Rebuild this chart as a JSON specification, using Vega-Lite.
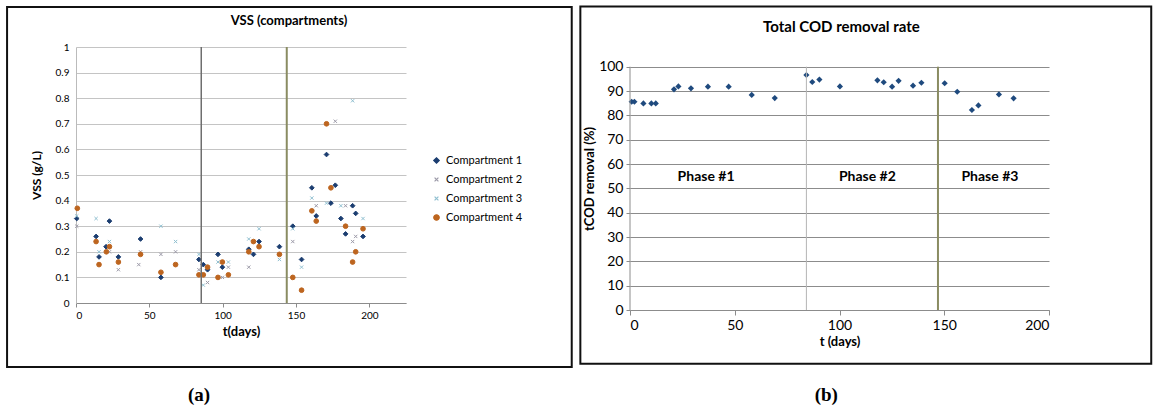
{
  "$schema": "https://vega.github.io/schema/vega-lite/v6.json",
  "background": "white",
  "padding": {"left": 6, "top": 5, "right": 3, "bottom": 2},
  "spacing": 6,
  "config": {
    "view": {"stroke": null},
    "font": "Lato",
    "axis": {"labelFont": "Lato", "titleFont": "Lato", "labelColor": "#000", "titleColor": "#000", "domainColor": "#8c8c8c", "tickColor": "#8c8c8c"}
  },
  "datasets": {
    "vss": [
      {"t": 0.5, "vss": 0.33, "series": "Compartment 1"},
      {"t": 13.7, "vss": 0.26, "series": "Compartment 1"},
      {"t": 15.7, "vss": 0.18, "series": "Compartment 1"},
      {"t": 20.5, "vss": 0.22, "series": "Compartment 1"},
      {"t": 22.8, "vss": 0.32, "series": "Compartment 1"},
      {"t": 28.9, "vss": 0.18, "series": "Compartment 1"},
      {"t": 44.0, "vss": 0.25, "series": "Compartment 1"},
      {"t": 57.9, "vss": 0.10, "series": "Compartment 1"},
      {"t": 83.8, "vss": 0.17, "series": "Compartment 1"},
      {"t": 86.8, "vss": 0.15, "series": "Compartment 1"},
      {"t": 89.7, "vss": 0.13, "series": "Compartment 1"},
      {"t": 96.8, "vss": 0.19, "series": "Compartment 1"},
      {"t": 99.8, "vss": 0.14, "series": "Compartment 1"},
      {"t": 117.8, "vss": 0.21, "series": "Compartment 1"},
      {"t": 121.0, "vss": 0.19, "series": "Compartment 1"},
      {"t": 124.8, "vss": 0.24, "series": "Compartment 1"},
      {"t": 138.7, "vss": 0.22, "series": "Compartment 1"},
      {"t": 147.8, "vss": 0.30, "series": "Compartment 1"},
      {"t": 153.8, "vss": 0.17, "series": "Compartment 1"},
      {"t": 160.8, "vss": 0.45, "series": "Compartment 1"},
      {"t": 163.8, "vss": 0.34, "series": "Compartment 1"},
      {"t": 170.8, "vss": 0.58, "series": "Compartment 1"},
      {"t": 173.8, "vss": 0.39, "series": "Compartment 1"},
      {"t": 176.8, "vss": 0.46, "series": "Compartment 1"},
      {"t": 180.6, "vss": 0.33, "series": "Compartment 1"},
      {"t": 183.8, "vss": 0.27, "series": "Compartment 1"},
      {"t": 188.6, "vss": 0.38, "series": "Compartment 1"},
      {"t": 190.7, "vss": 0.35, "series": "Compartment 1"},
      {"t": 195.7, "vss": 0.26, "series": "Compartment 1"},
      {"t": 0.5, "vss": 0.30, "series": "Compartment 2"},
      {"t": 22.8, "vss": 0.20, "series": "Compartment 2"},
      {"t": 28.9, "vss": 0.13, "series": "Compartment 2"},
      {"t": 42.8, "vss": 0.15, "series": "Compartment 2"},
      {"t": 44.0, "vss": 0.20, "series": "Compartment 2"},
      {"t": 57.9, "vss": 0.19, "series": "Compartment 2"},
      {"t": 67.9, "vss": 0.20, "series": "Compartment 2"},
      {"t": 83.8, "vss": 0.13, "series": "Compartment 2"},
      {"t": 89.7, "vss": 0.08, "series": "Compartment 2"},
      {"t": 99.8, "vss": 0.10, "series": "Compartment 2"},
      {"t": 103.9, "vss": 0.14, "series": "Compartment 2"},
      {"t": 117.8, "vss": 0.14, "series": "Compartment 2"},
      {"t": 147.8, "vss": 0.24, "series": "Compartment 2"},
      {"t": 163.8, "vss": 0.38, "series": "Compartment 2"},
      {"t": 176.8, "vss": 0.71, "series": "Compartment 2"},
      {"t": 183.8, "vss": 0.38, "series": "Compartment 2"},
      {"t": 188.6, "vss": 0.24, "series": "Compartment 2"},
      {"t": 190.7, "vss": 0.26, "series": "Compartment 2"},
      {"t": 0.5, "vss": 0.34, "series": "Compartment 3"},
      {"t": 13.7, "vss": 0.33, "series": "Compartment 3"},
      {"t": 15.7, "vss": 0.20, "series": "Compartment 3"},
      {"t": 22.8, "vss": 0.24, "series": "Compartment 3"},
      {"t": 57.9, "vss": 0.30, "series": "Compartment 3"},
      {"t": 67.9, "vss": 0.24, "series": "Compartment 3"},
      {"t": 83.8, "vss": 0.19, "series": "Compartment 3"},
      {"t": 86.8, "vss": 0.07, "series": "Compartment 3"},
      {"t": 96.8, "vss": 0.16, "series": "Compartment 3"},
      {"t": 103.9, "vss": 0.16, "series": "Compartment 3"},
      {"t": 117.8, "vss": 0.25, "series": "Compartment 3"},
      {"t": 124.8, "vss": 0.29, "series": "Compartment 3"},
      {"t": 138.7, "vss": 0.17, "series": "Compartment 3"},
      {"t": 147.8, "vss": 0.29, "series": "Compartment 3"},
      {"t": 153.8, "vss": 0.14, "series": "Compartment 3"},
      {"t": 160.8, "vss": 0.41, "series": "Compartment 3"},
      {"t": 170.8, "vss": 0.39, "series": "Compartment 3"},
      {"t": 180.6, "vss": 0.38, "series": "Compartment 3"},
      {"t": 188.6, "vss": 0.79, "series": "Compartment 3"},
      {"t": 195.7, "vss": 0.33, "series": "Compartment 3"},
      {"t": 0.9, "vss": 0.37, "series": "Compartment 4"},
      {"t": 13.7, "vss": 0.24, "series": "Compartment 4"},
      {"t": 15.7, "vss": 0.15, "series": "Compartment 4"},
      {"t": 20.7, "vss": 0.20, "series": "Compartment 4"},
      {"t": 22.8, "vss": 0.22, "series": "Compartment 4"},
      {"t": 28.9, "vss": 0.16, "series": "Compartment 4"},
      {"t": 44.0, "vss": 0.19, "series": "Compartment 4"},
      {"t": 57.9, "vss": 0.12, "series": "Compartment 4"},
      {"t": 67.9, "vss": 0.15, "series": "Compartment 4"},
      {"t": 83.8, "vss": 0.11, "series": "Compartment 4"},
      {"t": 86.8, "vss": 0.11, "series": "Compartment 4"},
      {"t": 89.7, "vss": 0.14, "series": "Compartment 4"},
      {"t": 96.8, "vss": 0.10, "series": "Compartment 4"},
      {"t": 99.8, "vss": 0.16, "series": "Compartment 4"},
      {"t": 103.9, "vss": 0.11, "series": "Compartment 4"},
      {"t": 117.8, "vss": 0.20, "series": "Compartment 4"},
      {"t": 121.0, "vss": 0.24, "series": "Compartment 4"},
      {"t": 124.8, "vss": 0.22, "series": "Compartment 4"},
      {"t": 138.7, "vss": 0.19, "series": "Compartment 4"},
      {"t": 147.8, "vss": 0.10, "series": "Compartment 4"},
      {"t": 153.8, "vss": 0.05, "series": "Compartment 4"},
      {"t": 160.8, "vss": 0.36, "series": "Compartment 4"},
      {"t": 163.8, "vss": 0.32, "series": "Compartment 4"},
      {"t": 170.8, "vss": 0.70, "series": "Compartment 4"},
      {"t": 173.8, "vss": 0.45, "series": "Compartment 4"},
      {"t": 183.8, "vss": 0.30, "series": "Compartment 4"},
      {"t": 188.6, "vss": 0.16, "series": "Compartment 4"},
      {"t": 190.7, "vss": 0.20, "series": "Compartment 4"},
      {"t": 195.7, "vss": 0.29, "series": "Compartment 4"}
    ],
    "cod": [
      {"t": 0.8, "removal": 85.6}, {"t": 2.1, "removal": 85.6}, {"t": 6.4, "removal": 84.9},
      {"t": 10.2, "removal": 84.9}, {"t": 12.3, "removal": 84.9}, {"t": 21.0, "removal": 90.7},
      {"t": 23.1, "removal": 91.9}, {"t": 29.1, "removal": 91.1}, {"t": 37.2, "removal": 91.8},
      {"t": 47.1, "removal": 91.8}, {"t": 58.1, "removal": 88.4}, {"t": 69.1, "removal": 87.1},
      {"t": 84.2, "removal": 96.6}, {"t": 87.0, "removal": 93.7}, {"t": 90.4, "removal": 94.7},
      {"t": 100.2, "removal": 91.9}, {"t": 118.1, "removal": 94.4}, {"t": 121.1, "removal": 93.6},
      {"t": 125.1, "removal": 91.8}, {"t": 128.2, "removal": 94.2}, {"t": 135.1, "removal": 92.2},
      {"t": 139.1, "removal": 93.4}, {"t": 150.2, "removal": 93.2}, {"t": 156.2, "removal": 89.7},
      {"t": 163.2, "removal": 82.2}, {"t": 166.3, "removal": 84.1}, {"t": 176.1, "removal": 88.6},
      {"t": 183.1, "removal": 87.0}
    ],
    "phases": [
      {"t": 36.3, "removal": 54.5, "label": "Phase #1"},
      {"t": 113.3, "removal": 54.5, "label": "Phase #2"},
      {"t": 171.8, "removal": 54.5, "label": "Phase #3"}
    ],
    "one": [{}]
  },
  "hconcat": [
    {
      "width": 330,
      "height": 256,
      "layer": [
        {
          "data": {"name": "vss"},
          "mark": {"type": "point", "filled": true, "opacity": 1, "strokeWidth": 1},
          "encoding": {
            "x": {
              "field": "t", "type": "quantitative",
              "scale": {"domain": [0, 225], "nice": false, "zero": false},
              "axis": {"values": [0, 50, 100, 150, 200], "tickCount": 20, "grid": false, "title": "t(days)", "titleFontSize": 13, "titleFontWeight": "bold", "labelFontSize": 10, "tickSize": 4, "labelPadding": 3, "titlePadding": 5}
            },
            "y": {
              "field": "vss", "type": "quantitative",
              "scale": {"domain": [0, 1], "nice": false, "zero": false},
              "axis": {"values": [0, 0.1, 0.2, 0.3, 0.4, 0.5, 0.6, 0.7, 0.8, 0.9, 1], "tickCount": 20, "labelOverlap": false, "format": "~g", "grid": true, "gridColor": "#c4c4c4", "ticks": false, "domainColor": "#bbbbbb", "title": "VSS (g/L)", "titleFontSize": 12, "titleFontWeight": "bold", "labelFontSize": 10, "labelPadding": 7, "titlePadding": 12}
            },
            "color": {
              "field": "series", "type": "nominal",
              "scale": {"domain": ["Compartment 1", "Compartment 2", "Compartment 3", "Compartment 4"], "range": ["#1b3d70", "#9c9aa8", "#8fbfd0", "#bd651f"]},
              "legend": {"title": null, "orient": "none", "legendX": 355, "legendY": 108, "labelFontSize": 11, "labelFont": "Lato", "rowPadding": 7, "symbolSize": 30, "symbolStrokeWidth": 1.2, "labelColor": "#000"}
            },
            "stroke": {
              "field": "series", "type": "nominal",
              "scale": {"domain": ["Compartment 1", "Compartment 2", "Compartment 3", "Compartment 4"], "range": ["#1b3d70", "#9c9aa8", "#8fbfd0", "#bd651f"]},
              "legend": {"title": null, "orient": "none", "legendX": 355, "legendY": 108, "labelFontSize": 11, "labelFont": "Lato", "rowPadding": 7, "symbolSize": 30, "symbolStrokeWidth": 1.2, "labelColor": "#000"}
            },
            "shape": {
              "field": "series", "type": "nominal",
              "scale": {"domain": ["Compartment 1", "Compartment 2", "Compartment 3", "Compartment 4"], "range": ["diamond", "M-0.7,-0.7L0.7,0.7M-0.7,0.7L0.7,-0.7", "M-0.7,-0.7L0.7,0.7M-0.7,0.7L0.7,-0.7", "circle"]},
              "legend": {"title": null, "orient": "none", "legendX": 355, "legendY": 108, "labelFontSize": 11, "labelFont": "Lato", "rowPadding": 7, "symbolSize": 30, "symbolStrokeWidth": 1.2, "labelColor": "#000"}
            },
            "size": {"value": 22}
          }
        },
        {
          "data": {"name": "one"},
          "mark": {"type": "rect", "filled": false, "stroke": "#111", "strokeWidth": 2, "clip": false},
          "encoding": {
            "x": {"datum": -47, "type": "quantitative"},
            "x2": {"datum": 338},
            "y": {"datum": 1.156, "type": "quantitative"},
            "y2": {"datum": -0.25}
          }
        },
        {
          "data": {"name": "one"},
          "mark": {"type": "rule", "color": "#6e6e6e", "strokeWidth": 1.5},
          "encoding": {"x": {"datum": 85.4, "type": "quantitative"}}
        },
        {
          "data": {"name": "one"},
          "mark": {"type": "rule", "color": "#8a8c62", "strokeWidth": 2},
          "encoding": {"x": {"datum": 143.7, "type": "quantitative"}}
        },
        {
          "data": {"name": "one"},
          "mark": {"type": "text", "text": "VSS (compartments)", "font": "Lato", "fontSize": 13, "fontWeight": "bold", "color": "#000", "baseline": "middle", "clip": false},
          "encoding": {"x": {"datum": 145.2, "type": "quantitative"}, "y": {"datum": 1.1, "type": "quantitative"}}
        },
        {
          "data": {"name": "one"},
          "mark": {"type": "text", "text": "(a)", "font": "Liberation Serif", "fontSize": 19, "fontWeight": "bold", "color": "#000", "baseline": "middle", "clip": false},
          "encoding": {"x": {"datum": 83.9, "type": "quantitative"}, "y": {"datum": -0.36, "type": "quantitative"}}
        }
      ]
    },
    {
      "width": 419,
      "height": 263,
      "layer": [
        {
          "data": {"name": "cod"},
          "mark": {"type": "point", "shape": "diamond", "filled": true, "color": "#1f4a7e", "size": 38, "opacity": 1},
          "encoding": {
            "x": {
              "field": "t", "type": "quantitative",
              "scale": {"domain": [0, 200], "nice": false, "zero": false},
              "axis": {"values": [0, 50, 100, 150, 200], "tickCount": 20, "grid": false, "title": "t (days)", "titleFontSize": 13, "titleFontWeight": "bold", "labelFontSize": 14, "tickSize": 5, "labelPadding": 3, "titlePadding": 3}
            },
            "y": {
              "field": "removal", "type": "quantitative",
              "scale": {"domain": [0, 108.1], "nice": false, "zero": false},
              "axis": {"values": [0, 10, 20, 30, 40, 50, 60, 70, 80, 90, 100], "tickCount": 20, "labelOverlap": false, "domain": false, "grid": true, "gridColor": "#8c8c8c", "tickSize": 4, "title": "tCOD removal (%)", "titleFontSize": 13, "titleFontWeight": "bold", "labelFontSize": 14, "labelPadding": 3, "titlePadding": 2}
            }
          }
        },
        {
          "data": {"name": "one"},
          "mark": {"type": "rule", "color": "#8c8c8c", "strokeWidth": 1},
          "encoding": {"x": {"datum": 0, "type": "quantitative"}, "y": {"datum": 0, "type": "quantitative"}, "y2": {"datum": 100}}
        },
        {
          "data": {"name": "one"},
          "mark": {"type": "rect", "filled": false, "stroke": "#111", "strokeWidth": 2, "clip": false},
          "encoding": {
            "x": {"datum": -23.7, "type": "quantitative"},
            "x2": {"datum": 248.8},
            "y": {"datum": 124.7, "type": "quantitative"},
            "y2": {"datum": -22.1}
          }
        },
        {
          "data": {"name": "one"},
          "mark": {"type": "rule", "color": "#b4b4b4", "strokeWidth": 1},
          "encoding": {"x": {"datum": 84.2, "type": "quantitative"}, "y": {"datum": 0, "type": "quantitative"}, "y2": {"datum": 100}}
        },
        {
          "data": {"name": "one"},
          "mark": {"type": "rule", "color": "#8a8c62", "strokeWidth": 2},
          "encoding": {"x": {"datum": 147.0, "type": "quantitative"}, "y": {"datum": 0, "type": "quantitative"}, "y2": {"datum": 100}}
        },
        {
          "data": {"name": "phases"},
          "mark": {"type": "text", "font": "Lato", "fontSize": 14, "fontWeight": "bold", "color": "#000"},
          "encoding": {
            "x": {"field": "t", "type": "quantitative"},
            "y": {"field": "removal", "type": "quantitative"},
            "text": {"field": "label"}
          }
        },
        {
          "data": {"name": "one"},
          "mark": {"type": "text", "text": "Total COD removal rate", "font": "Lato", "fontSize": 15, "fontWeight": "bold", "color": "#000", "baseline": "middle", "clip": false},
          "encoding": {"x": {"datum": 100.9, "type": "quantitative"}, "y": {"datum": 116.4, "type": "quantitative"}}
        },
        {
          "data": {"name": "one"},
          "mark": {"type": "text", "text": "(b)", "font": "Liberation Serif", "fontSize": 19, "fontWeight": "bold", "color": "#000", "baseline": "middle", "clip": false},
          "encoding": {"x": {"datum": 93.7, "type": "quantitative"}, "y": {"datum": -34.8, "type": "quantitative"}}
        }
      ]
    }
  ]
}
